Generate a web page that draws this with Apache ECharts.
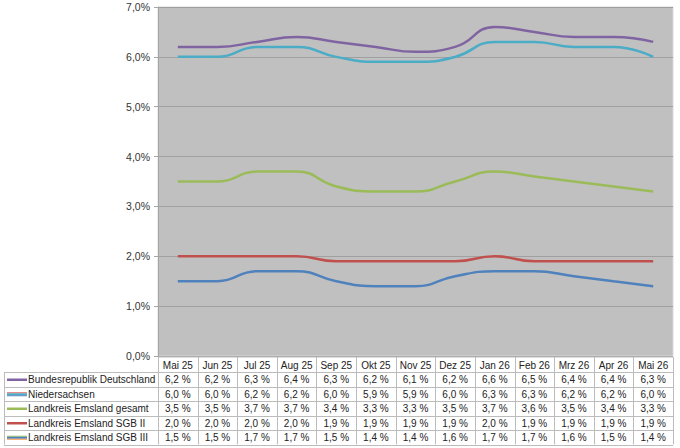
<!DOCTYPE html>
<html><head><meta charset="utf-8">
<script src="https://cdn.jsdelivr.net/npm/echarts@6/dist/echarts.min.js"></script>
<style>html,body{margin:0;padding:0;background:#fff}#c{width:680px;height:448px}</style>
</head><body><div id="c"></div>
<script>
var categories = ['Mai 25','Jun 25','Jul 25','Aug 25','Sep 25','Okt 25','Nov 25','Dez 25','Jan 26','Feb 26','Mrz 26','Apr 26','Mai 26'];
var seriesNames = ['Bundesrepublik Deutschland','Niedersachsen','Landkreis Emsland gesamt','Landkreis Emsland SGB II','Landkreis Emsland SGB III'];
var brd = [6.2,6.2,6.3,6.4,6.3,6.2,6.1,6.2,6.6,6.5,6.4,6.4,6.3];
var nds = [6.0,6.0,6.2,6.2,6.0,5.9,5.9,6.0,6.3,6.3,6.2,6.2,6.0];
var emsGesamt = [3.5,3.5,3.7,3.7,3.4,3.3,3.3,3.5,3.7,3.6,3.5,3.4,3.3];
var emsSGB2 = [2.0,2.0,2.0,2.0,1.9,1.9,1.9,1.9,2.0,1.9,1.9,1.9,1.9];
var emsSGB3 = [1.5,1.5,1.7,1.7,1.5,1.4,1.4,1.6,1.7,1.7,1.6,1.5,1.4];
var yTicks = [0,1,2,3,4,5,6,7];

var allData = [brd, nds, emsGesamt, emsSGB2, emsSGB3];
var colors = ['#8064a2','#4bacc6','#9bbb59','#c0504d','#4f81bd'];
var FONT = 'Liberation Sans, Arial, sans-serif';

var chart = echarts.init(document.getElementById('c'), null, {renderer:'svg'});
chart.setOption({
  animation:false,
  grid:{left:158,right:7,top:7,bottom:92,show:true,backgroundColor:'#c0c0c0',borderColor:'#d9d9d9',borderWidth:1},
  xAxis:{type:'category',data:categories,boundaryGap:true,axisLine:{show:false},axisTick:{show:false},axisLabel:{show:false}},
  yAxis:{type:'value',min:yTicks[0],max:yTicks[yTicks.length-1],interval:1,
    axisLine:{show:true,lineStyle:{color:'#a6a6a6',width:1}},
    axisTick:{show:true,length:4,lineStyle:{color:'#a6a6a6'}},
    splitLine:{show:true,lineStyle:{color:'#a0a0a0',width:1}},
    axisLabel:{margin:8,color:'#333',fontSize:10.5,fontFamily:FONT,formatter:function(v){return v.toFixed(1).replace('.',',')+'%';}}},
  series: allData.map(function(d,i){return {name:seriesNames[i],type:'line',data:d,smooth:0.5,symbol:'none',lineStyle:{width:2.5,color:colors[i]},z:10-i};})
});

function buildTable(){
  var x0 = chart.convertToPixel({xAxisIndex:0}, 0);
  var x1 = chart.convertToPixel({xAxisIndex:0}, 1);
  var bw = x1 - x0;
  var yBottom = chart.convertToPixel({yAxisIndex:0}, 0);
  var leftX = 4;
  var colStart = x0 - bw/2;
  var colEnd = chart.convertToPixel({xAxisIndex:0}, categories.length-1) + bw/2;
  var headerTop = yBottom + 1, headerH = 15, rowH = 14.5;
  var rowsTop = headerTop + headerH;
  var els = [];
  var lc = '#bcbcbc';
  var tf = '10px '+FONT;
  function line(xa,ya,xb,yb){els.push({type:'line',shape:{x1:xa,y1:ya,x2:xb,y2:yb},style:{stroke:lc,lineWidth:1},silent:true});}
  line(colStart, headerTop, colEnd, headerTop);
  for(var i=0;i<=categories.length;i++){
    var xx = Math.round(colStart + i*bw)+0.5;
    line(xx, headerTop, xx, rowsTop + seriesNames.length*rowH);
  }
  line(leftX+0.5, rowsTop, leftX+0.5, rowsTop + seriesNames.length*rowH);
  for(var r=0;r<=seriesNames.length;r++){
    var yy = Math.round(rowsTop + r*rowH)+0.5;
    line(leftX, yy, colEnd, yy);
  }
  categories.forEach(function(c,i){
    els.push({type:'text',x:chart.convertToPixel({xAxisIndex:0}, i),y:headerTop+headerH/2+0.5,style:{text:c,fill:'#222',font:tf,align:'center',verticalAlign:'middle'},silent:true});
  });
  seriesNames.forEach(function(n,r){
    var cy = rowsTop + r*rowH + rowH/2 + 0.5;
    if(r===1){
      els.push({type:'line',shape:{x1:7,y1:cy-1.5,x2:27,y2:cy-1.5},style:{stroke:'#e06666',lineWidth:1}});
      els.push({type:'line',shape:{x1:7,y1:cy,x2:27,y2:cy},style:{stroke:colors[1],lineWidth:2}});
      els.push({type:'line',shape:{x1:7,y1:cy+1.5,x2:27,y2:cy+1.5},style:{stroke:'#4f81bd',lineWidth:1}});
    } else if(r===4){
      els.push({type:'line',shape:{x1:7,y1:cy-1.5,x2:27,y2:cy-1.5},style:{stroke:'#9bbb59',lineWidth:1}});
      els.push({type:'line',shape:{x1:7,y1:cy,x2:27,y2:cy},style:{stroke:colors[4],lineWidth:2}});
      els.push({type:'line',shape:{x1:7,y1:cy+1.5,x2:27,y2:cy+1.5},style:{stroke:'#f79646',lineWidth:1}});
    } else {
      els.push({type:'line',shape:{x1:7,y1:cy,x2:27,y2:cy},style:{stroke:colors[r],lineWidth:2.5}});
    }
    els.push({type:'text',x:28,y:cy,style:{text:n,fill:'#222',font:tf,align:'left',verticalAlign:'middle'},silent:true});
    allData[r].forEach(function(v,i){
      els.push({type:'text',x:chart.convertToPixel({xAxisIndex:0}, i),y:cy,style:{text:v.toFixed(1).replace('.',',')+' %',fill:'#222',font:tf,align:'center',verticalAlign:'middle'},silent:true});
    });
  });
  chart.setOption({graphic:{elements:els}});
}
buildTable();
</script></body></html>
